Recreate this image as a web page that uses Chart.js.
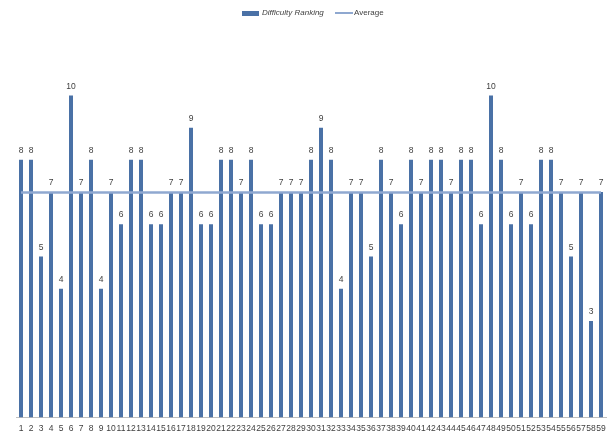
<!DOCTYPE html>
<html>
<head>
<meta charset="utf-8">
<script src="https://cdn.jsdelivr.net/npm/chart.js@4/dist/chart.umd.min.js"></script>
<style>
  html, body { margin: 0; padding: 0; background: #ffffff; }
  #wrap { position: relative; width: 614px; height: 437px; }
</style>
</head>
<body>
<div id="wrap"><canvas id="chart" width="614" height="437"></canvas></div>
<script>
// Question numbers 1..59
const questions = ["1","2","3","4","5","6","7","8","9","10","11","12","13","14","15","16","17","18","19","20",
  "21","22","23","24","25","26","27","28","29","30","31","32","33","34","35","36","37","38","39","40",
  "41","42","43","44","45","46","47","48","49","50","51","52","53","54","55","56","57","58","59"];

// Difficulty ranking given to each question
const difficultyRanking = [8,8,5,7,4,10,7,8,4,7, 6,8,8,6,6,7,7,9,6,6,
  8,8,7,8,6,6,7,7,7,8, 9,8,4,7,7,5,8,7,6,8,
  7,8,8,7,8,8,6,10,8,6, 7,6,8,8,7,5,7,3,7];

// Mean ranking across all questions, repeated for the reference line
const meanRanking = difficultyRanking.reduce((a, b) => a + b, 0) / difficultyRanking.length;
const averageSeries = questions.map(() => meanRanking);

const seriesNames = ["Difficulty Ranking", "Average"];

const barColor = "#4A71A6";
const lineColor = "#8FA8D0";
const textColor = "#404040";
const fontFamily = "'Liberation Sans', Arial, sans-serif";

// Value labels above each bar
const barValueLabels = {
  id: "barValueLabels",
  afterDatasetsDraw(chart) {
    const meta = chart.getDatasetMeta(0);
    const ctx = chart.ctx;
    ctx.save();
    ctx.fillStyle = textColor;
    ctx.font = "8.5px " + fontFamily;
    ctx.textAlign = "center";
    ctx.textBaseline = "bottom";
    meta.data.forEach((bar, i) => {
      ctx.fillText(String(chart.data.datasets[0].data[i]), bar.x, bar.y - 5);
    });
    ctx.restore();
  }
};

// Legend row at the top: bar swatch + italic name, line swatch + name
const topLegend = {
  id: "topLegend",
  afterDraw(chart) {
    const ctx = chart.ctx;
    const y = 13;
    ctx.save();
    ctx.textBaseline = "middle";
    ctx.textAlign = "left";

    ctx.fillStyle = barColor;
    ctx.fillRect(242, 11, 17, 5);
    ctx.fillStyle = textColor;
    ctx.font = "italic 8px " + fontFamily;
    ctx.fillText(seriesNames[0], 262, y);

    ctx.strokeStyle = lineColor;
    ctx.lineWidth = 2;
    ctx.beginPath();
    ctx.moveTo(335, y);
    ctx.lineTo(353, y);
    ctx.stroke();
    ctx.font = "8px " + fontFamily;
    ctx.fillText(seriesNames[1], 354, y);
    ctx.restore();
  }
};

new Chart(document.getElementById("chart"), {
  data: {
    labels: questions,
    datasets: [
      {
        type: "bar",
        label: seriesNames[0],
        data: difficultyRanking,
        backgroundColor: barColor,
        barPercentage: 0.4,
        categoryPercentage: 1.0,
        order: 1
      },
      {
        type: "line",
        label: seriesNames[1],
        data: averageSeries,
        borderColor: lineColor,
        borderWidth: 2.5,
        pointRadius: 0,
        tension: 0,
        order: 0
      }
    ]
  },
  options: {
    responsive: false,
    animation: false,
    layout: { padding: { top: 31, left: 16, right: 8, bottom: 0 } },
    plugins: {
      legend: { display: false },
      tooltip: { enabled: false }
    },
    scales: {
      x: {
        offset: true,
        grid: { display: false, drawTicks: false },
        border: { display: true, color: "#BFBFBF", width: 1 },
        afterFit(scale) { scale.height = 19.5; },
        ticks: {
          autoSkip: false,
          maxRotation: 0,
          minRotation: 0,
          padding: 6,
          color: textColor,
          font: { size: 8.5, family: fontFamily }
        }
      },
      y: {
        display: false,
        min: 0,
        max: 12
      }
    }
  },
  plugins: [barValueLabels, topLegend]
});
</script>
</body>
</html>
